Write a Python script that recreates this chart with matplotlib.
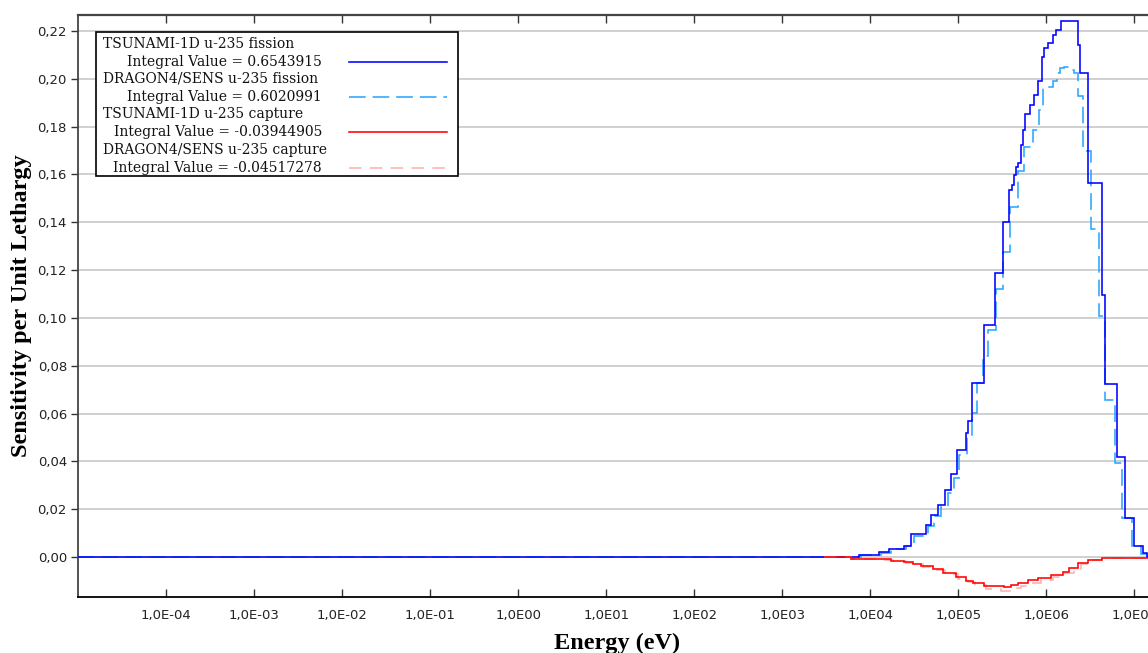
import matplotlib
matplotlib.use("Agg")
import matplotlib.pyplot as plt
from matplotlib.patches import Rectangle
from matplotlib.lines import Line2D
from matplotlib.transforms import Affine2D

# ---- data: group-wise sensitivity per unit lethargy (energy edges in eV) ----
tsunami_fission_edges = [1e-5, 7.5e3, 1.265e4, 1.644e4, 2.434e4, 2.923e4, 4.33e4, 4.93e4,
                         5.93e4, 7.12e4, 8.32e4, 9.75e4, 1.233e5, 1.30e5, 1.443e5, 1.973e5,
                         2.63e5, 3.245e5, 3.80e5, 4.11e5, 4.33e5, 4.56e5, 4.81e5, 5.20e5,
                         5.48e5, 5.77e5, 6.58e5, 7.31e5, 8.11e5, 9.01e5, 9.49e5, 1.054e6,
                         1.202e6, 1.30e6, 1.48e6, 1.778e6, 2.31e6, 2.434e6, 3.0e6, 4.33e6,
                         4.68e6, 6.41e6, 7.9e6, 9.75e6, 1.265e7, 1.405e7, 2e7]
tsunami_fission = [0.0, 0.0009, 0.002, 0.0035, 0.0047, 0.0095, 0.0136, 0.0178, 0.0218, 0.028,
                   0.0347, 0.0448, 0.052, 0.057, 0.0729, 0.097, 0.1186, 0.140, 0.1536, 0.1556,
                   0.1598, 0.1633, 0.1647, 0.1724, 0.1787, 0.1852, 0.1891, 0.1933, 0.1989, 0.2093,
                   0.2128, 0.2149, 0.2184, 0.2205, 0.2243, 0.2240, 0.2142, 0.2024, 0.1564, 0.1096,
                   0.0723, 0.042, 0.0165, 0.0048, 0.0015, 0.0]

dragon_fission_edges = [1e-5, 7.9e3, 1.334e4, 1.733e4, 2.566e4, 3.162e4, 4.56e4, 5.33e4,
                        6.41e4, 7.70e4, 9.01e4, 1.026e5, 1.265e5, 1.443e5, 1.644e5, 1.92e5,
                        2.19e5, 2.70e5, 3.245e5, 3.90e5, 4.81e5, 5.62e5, 7.12e5, 8.32e5,
                        9.25e5, 1.202e6, 1.334e6, 1.443e6, 1.60e6, 1.825e6, 2.08e6, 2.31e6,
                        2.63e6, 3.245e6, 4.0e6, 4.68e6, 5.93e6, 7.12e6, 9.25e6, 1.17e7,
                        1.37e7, 2e7]
dragon_fission = [0.0, 0.0008, 0.0018, 0.0032, 0.0045, 0.009, 0.0128, 0.017, 0.021, 0.027,
                  0.033, 0.0425, 0.050, 0.0604, 0.0728, 0.0841, 0.095, 0.112, 0.1277, 0.1466,
                  0.1616, 0.1714, 0.1784, 0.187, 0.1965, 0.199, 0.2024, 0.2045, 0.2049, 0.2035,
                  0.2025, 0.1929, 0.1697, 0.1371, 0.1008, 0.0657, 0.0395, 0.0165, 0.0045, 0.0013,
                  0.0]

tsunami_capture_edges = [3e3, 6.08e3, 1.265e4, 1.733e4, 2.434e4, 3.081e4, 3.8e4, 5.2e4,
                         6.76e4, 9.49e4, 1.233e5, 1.48e5, 1.973e5, 3.33e5, 4.0e5, 4.81e5,
                         6.24e5, 8.11e5, 1.14e6, 1.56e6, 1.825e6, 2.31e6, 3.0e6, 4.22e6, 2e7]
tsunami_capture = [-0.0001, -0.0006, -0.001, -0.0016, -0.0022, -0.0028, -0.0038, -0.005,
                   -0.0066, -0.0085, -0.0100, -0.0110, -0.0123, -0.0127, -0.0118, -0.0108,
                   -0.0097, -0.0087, -0.0075, -0.0061, -0.0047, -0.0026, -0.0011, -0.0002]

dragon_capture_edges = [3e3, 6.08e3, 1.334e4, 1.825e4, 2.566e4, 3.245e4, 4.0e4, 5.48e4,
                        7.12e4, 1.0e5, 1.30e5, 1.56e5, 2.08e5, 3.08e5, 4.22e5, 5.20e5,
                        6.76e5, 8.77e5, 1.202e6, 1.644e6, 2.03e6, 2.50e6, 3.245e6, 4.22e6, 2e7]
dragon_capture = [-0.0001, -0.0006, -0.0011, -0.0017, -0.0023, -0.003, -0.004, -0.0053,
                  -0.007, -0.009, -0.0106, -0.0118, -0.0133, -0.0140, -0.0130, -0.0120,
                  -0.0108, -0.0096, -0.0083, -0.0068, -0.0050, -0.0030, -0.0012, -0.0002]

series_titles = ["TSUNAMI-1D u-235 fission", "DRAGON4/SENS u-235 fission",
                 "TSUNAMI-1D u-235 capture", "DRAGON4/SENS u-235 capture"]
integral_values = ["0.6543915", "0.6020991", "-0.03944905", "-0.04517278"]

x_ticks = [1e-4, 1e-3, 1e-2, 1e-1, 1e0, 1e1, 1e2, 1e3, 1e4, 1e5, 1e6, 1e7]
x_tick_labels = ["1,0E-04", "1,0E-03", "1,0E-02", "1,0E-01", "1,0E00", "1,0E01",
                 "1,0E02", "1,0E03", "1,0E04", "1,0E05", "1,0E06", "1,0E07"]
y_ticks = [0.00, 0.02, 0.04, 0.06, 0.08, 0.10, 0.12, 0.14, 0.16, 0.18, 0.20, 0.22]
y_tick_labels = ["0,00", "0,02", "0,04", "0,06", "0,08", "0,10",
                 "0,12", "0,14", "0,16", "0,18", "0,20", "0,22"]

# ---- styling ----
plt.rcParams["lines.scale_dashes"] = False
W, H = 1148, 653
fig = plt.figure(figsize=(W / 100, H / 100), dpi=100)
fig.patch.set_facecolor("white")

# axes frame spans past the right edge of the canvas
ax = fig.add_axes([78 / W, 1 - 597 / H, 1083 / W, 582 / H])
ax.set_xscale("log")
ax.set_xlim(1e-5, 2e7)
ax.set_ylim(-0.0167, 0.2267)

c_tf, c_df = "#0000ff", "#2aa6ff"
c_tc, c_dc = "#ff0000", "#ffb0b0"
dash_df = (0, (12, 5))
dash_dc = (0, (9, 6))
lw = 1.15

ax.stairs(dragon_fission, dragon_fission_edges, baseline=None, color=c_df,
          linewidth=lw, linestyle=dash_df, zorder=3)
ax.stairs(tsunami_fission, tsunami_fission_edges, baseline=None, color=c_tf,
          linewidth=lw, zorder=4)
ax.stairs(dragon_capture, dragon_capture_edges, baseline=None, color=c_dc,
          linewidth=lw, linestyle=dash_dc, zorder=5)
ax.stairs(tsunami_capture, tsunami_capture_edges, baseline=None, color=c_tc,
          linewidth=lw, zorder=6)

ax.set_xticks(x_ticks)
ax.set_xticklabels(x_tick_labels)
ax.xaxis.set_minor_locator(matplotlib.ticker.NullLocator())
ax.set_yticks(y_ticks)
ax.set_yticklabels(y_tick_labels)

ax.yaxis.grid(True, color="#c8c8c8", linewidth=1.2, zorder=0)
ax.set_axisbelow(True)

for lab in ax.get_xticklabels() + ax.get_yticklabels():
    lab.set_fontfamily("DejaVu Sans")
    lab.set_fontsize(9.5)
    lab.set_color("#222222")

ax.tick_params(axis="x", which="major", direction="in", length=6, width=1,
               top=True, bottom=True, pad=9, color="#333333")
ax.tick_params(axis="y", which="major", direction="out", length=5, width=1,
               left=True, right=False, pad=3, color="#333333")

for side in ["left", "top", "bottom"]:
    ax.spines[side].set_color("#444444")
ax.spines["top"].set_linewidth(1.6)
ax.spines["left"].set_linewidth(1.3)
ax.spines["bottom"].set_linewidth(1.3)
ax.spines["bottom"].set_color("#000000")
ax.spines["right"].set_visible(False)

label_font = dict(family="Liberation Serif", weight="bold", size=17.5)
fig.text(617 / W, 1 - 643 / H, "Energy (eV)", ha="center", va="center", **label_font)
fig.text(22 / W, 1 - 306 / H, "Sensitivity per Unit Lethargy", ha="center",
         va="center", rotation=90, **label_font)

# ---- legend box (pixel coordinates, origin at top-left) ----
pix = Affine2D().scale(1 / W, -1 / H).translate(0, 1) + fig.transFigure
fig.add_artist(Rectangle((96, 32), 362, 144, transform=pix, facecolor="white",
                         edgecolor="black", linewidth=1.2, zorder=10))
legend_font = dict(family="DejaVu Serif", size=10, color="#111111")
row_title_y = [44, 79, 114, 150]
row_value_y = [62, 97, 132, 168]
colors = [c_tf, c_df, c_tc, c_dc]
styles = ["-", dash_df, "-", dash_dc]
for i in range(4):
    fig.text(103, row_title_y[i], series_titles[i], transform=pix, ha="left",
             va="center", zorder=11, **legend_font)
    fig.text(322, row_value_y[i], "Integral Value = " + integral_values[i],
             transform=pix, ha="right", va="center", zorder=11, **legend_font)
    fig.add_artist(Line2D([349, 447], [row_value_y[i], row_value_y[i]], transform=pix,
                          color=colors[i], linestyle=styles[i], linewidth=lw, zorder=11))

fig.savefig("out.png", dpi=100)
